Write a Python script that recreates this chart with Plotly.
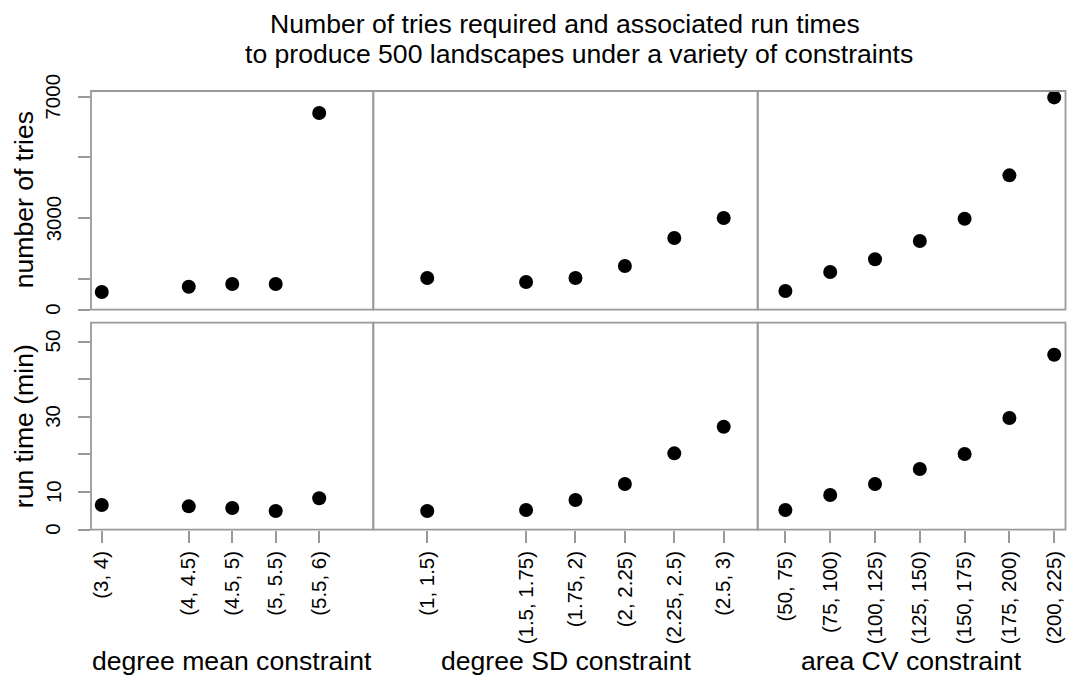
import plotly.graph_objects as go

W, H = 1069, 689

# ---------------- data ----------------
mean_labels = ["(3, 4)", "(4, 4.5)", "(4.5, 5)", "(5, 5.5)", "(5.5, 6)"]
mean_lower = [3, 4, 4.5, 5, 5.5]
mean_tries = [581, 755, 844, 844, 6458]
mean_time = [6.56, 6.21, 5.76, 4.97, 8.34]

sd_labels = ["(1, 1.5)", "(1.5, 1.75)", "(1.75, 2)", "(2, 2.25)", "(2.25, 2.5)", "(2.5, 3)"]
sd_lower = [1, 1.5, 1.75, 2, 2.25, 2.5]
sd_tries = [1041, 909, 1041, 1435, 2354, 3010]
sd_time = [4.97, 5.23, 7.89, 12.13, 20.29, 27.35]

cv_labels = ["(50, 75)", "(75, 100)", "(100, 125)", "(125, 150)", "(150, 175)", "(175, 200)", "(200, 225)"]
cv_lower = [50, 75, 100, 125, 150, 175, 200]
cv_tries = [614, 1238, 1655, 2255, 2988, 4412, 6973]
cv_time = [5.23, 9.21, 12.13, 16.12, 20.10, 29.66, 46.47]

group_titles = ["degree mean constraint", "degree SD constraint", "area CV constraint"]
row_titles = ["number of tries", "run time (min)"]
tries_ticks = [0, 1000, 3000, 5000, 7000]
tries_ticktext = ["0", "", "3000", "", "7000"]
time_ticks = [0, 10, 20, 30, 40, 50]
time_ticktext = ["0", "10", "", "30", "", "50"]
title_lines = ["Number of tries required and associated run times",
               "to produce 500 landscapes under a variety of constraints"]

# ---------------- layout geometry (pixels) ----------------
col_px = [(91, 373.3), (373.3, 757.7), (757.7, 1065.5)]
row_px = [(91, 309.7), (322.7, 529.7)]  # top, bottom (y from top)
x_ranges = [(2.876, 6.122), (0.727, 2.672), (34.54, 206.3)]
y_ranges = [(0, 7183), (0, 55.0)]

def px2x(p):
    return p / W

def px2y(p):
    return 1 - p / H

FONT = "Liberation Sans, Arial, sans-serif"
GRAY = "#999999"
LW = 1.8
TITLE_SIZE = 26.6
TICK_SIZE = 20.5

groups = [
    (mean_labels, mean_lower, mean_tries, mean_time),
    (sd_labels, sd_lower, sd_tries, sd_time),
    (cv_labels, cv_lower, cv_tries, cv_time),
]

fig = go.Figure()
layout = dict(
    width=W, height=H,
    margin=dict(l=0, r=0, t=0, b=0),
    paper_bgcolor="white", plot_bgcolor="white",
    showlegend=False,
    font=dict(family=FONT, color="black"),
    template=None,
)

shapes = []
annotations = []
idx = 0
for r in range(2):
    for c in range(3):
        idx += 1
        labels, lower, tries, time = groups[c]
        yvals = tries if r == 0 else time
        xa = "x" if idx == 1 else f"x{idx}"
        ya = "y" if idx == 1 else f"y{idx}"
        fig.add_trace(go.Scatter(
            x=lower, y=yvals, mode="markers", xaxis=xa, yaxis=ya,
            marker=dict(color="black", size=14, line=dict(width=0)),
            cliponaxis=False, hoverinfo="skip"))
        xkey = "xaxis" if idx == 1 else f"xaxis{idx}"
        ykey = "yaxis" if idx == 1 else f"yaxis{idx}"
        x0, x1 = col_px[c]
        yt, yb = row_px[r]
        shapes.append(dict(type="rect", xref="paper", yref="paper",
                           x0=px2x(x0), x1=px2x(x1), y0=px2y(yb), y1=px2y(yt),
                           line=dict(color=GRAY, width=LW), fillcolor="rgba(0,0,0,0)",
                           layer="above"))
        xaxis = dict(
            domain=[px2x(x0), px2x(x1)], range=list(x_ranges[c]),
            anchor=ya, showgrid=False, zeroline=False, showline=False,
            automargin=False, fixedrange=True,
        )
        if r == 1:
            xaxis.update(
                tickmode="array", tickvals=lower, ticktext=labels,
                ticks="outside", ticklen=12, tickwidth=LW, tickcolor=GRAY,
                tickangle=-90, tickfont=dict(family=FONT, size=TICK_SIZE, color="black"),
                showticklabels=True)
        else:
            xaxis.update(ticks="", showticklabels=False)
        yaxis = dict(
            domain=[px2y(yb), px2y(yt)], range=list(y_ranges[r]),
            anchor=xa, showgrid=False, zeroline=False, showline=False,
            automargin=False, fixedrange=True,
        )
        if c == 0:
            tv = tries_ticks if r == 0 else time_ticks
            tt = tries_ticktext if r == 0 else time_ticktext
            yaxis.update(
                tickmode="array", tickvals=tv, ticktext=[""] * len(tv),
                ticks="outside", ticklen=12, tickwidth=LW, tickcolor=GRAY,
                showticklabels=False)
            for v, t in zip(tv, tt):
                if t:
                    annotations.append(dict(
                        text=t, x=px2x(53), y=v, xref="paper", yref=ya,
                        xanchor="center", yanchor="middle", textangle=-90,
                        showarrow=False,
                        font=dict(family=FONT, size=TICK_SIZE, color="black")))
        else:
            yaxis.update(ticks="", showticklabels=False)
        layout[xkey] = xaxis
        layout[ykey] = yaxis

annotations.append(dict(text=title_lines[0], x=px2x(565), y=px2y(24),
                        xref="paper", yref="paper", xanchor="center", yanchor="middle",
                        showarrow=False, font=dict(family=FONT, size=TITLE_SIZE)))
annotations.append(dict(text=title_lines[1], x=px2x(579), y=px2y(54),
                        xref="paper", yref="paper", xanchor="center", yanchor="middle",
                        showarrow=False, font=dict(family=FONT, size=TITLE_SIZE)))
for c in range(3):
    cx = (col_px[c][0] + col_px[c][1]) / 2
    annotations.append(dict(text=group_titles[c], x=px2x(cx), y=px2y(661),
                            xref="paper", yref="paper", xanchor="center", yanchor="middle",
                            showarrow=False, font=dict(family=FONT, size=TITLE_SIZE)))
for r in range(2):
    cy = (row_px[r][0] + row_px[r][1]) / 2
    annotations.append(dict(text=row_titles[r], x=px2x(24), y=px2y(cy),
                            xref="paper", yref="paper", xanchor="center", yanchor="middle",
                            textangle=-90, showarrow=False, font=dict(family=FONT, size=TITLE_SIZE)))
layout["annotations"] = annotations
layout["shapes"] = shapes

fig.update_layout(**layout)
fig.write_html("out.html")
